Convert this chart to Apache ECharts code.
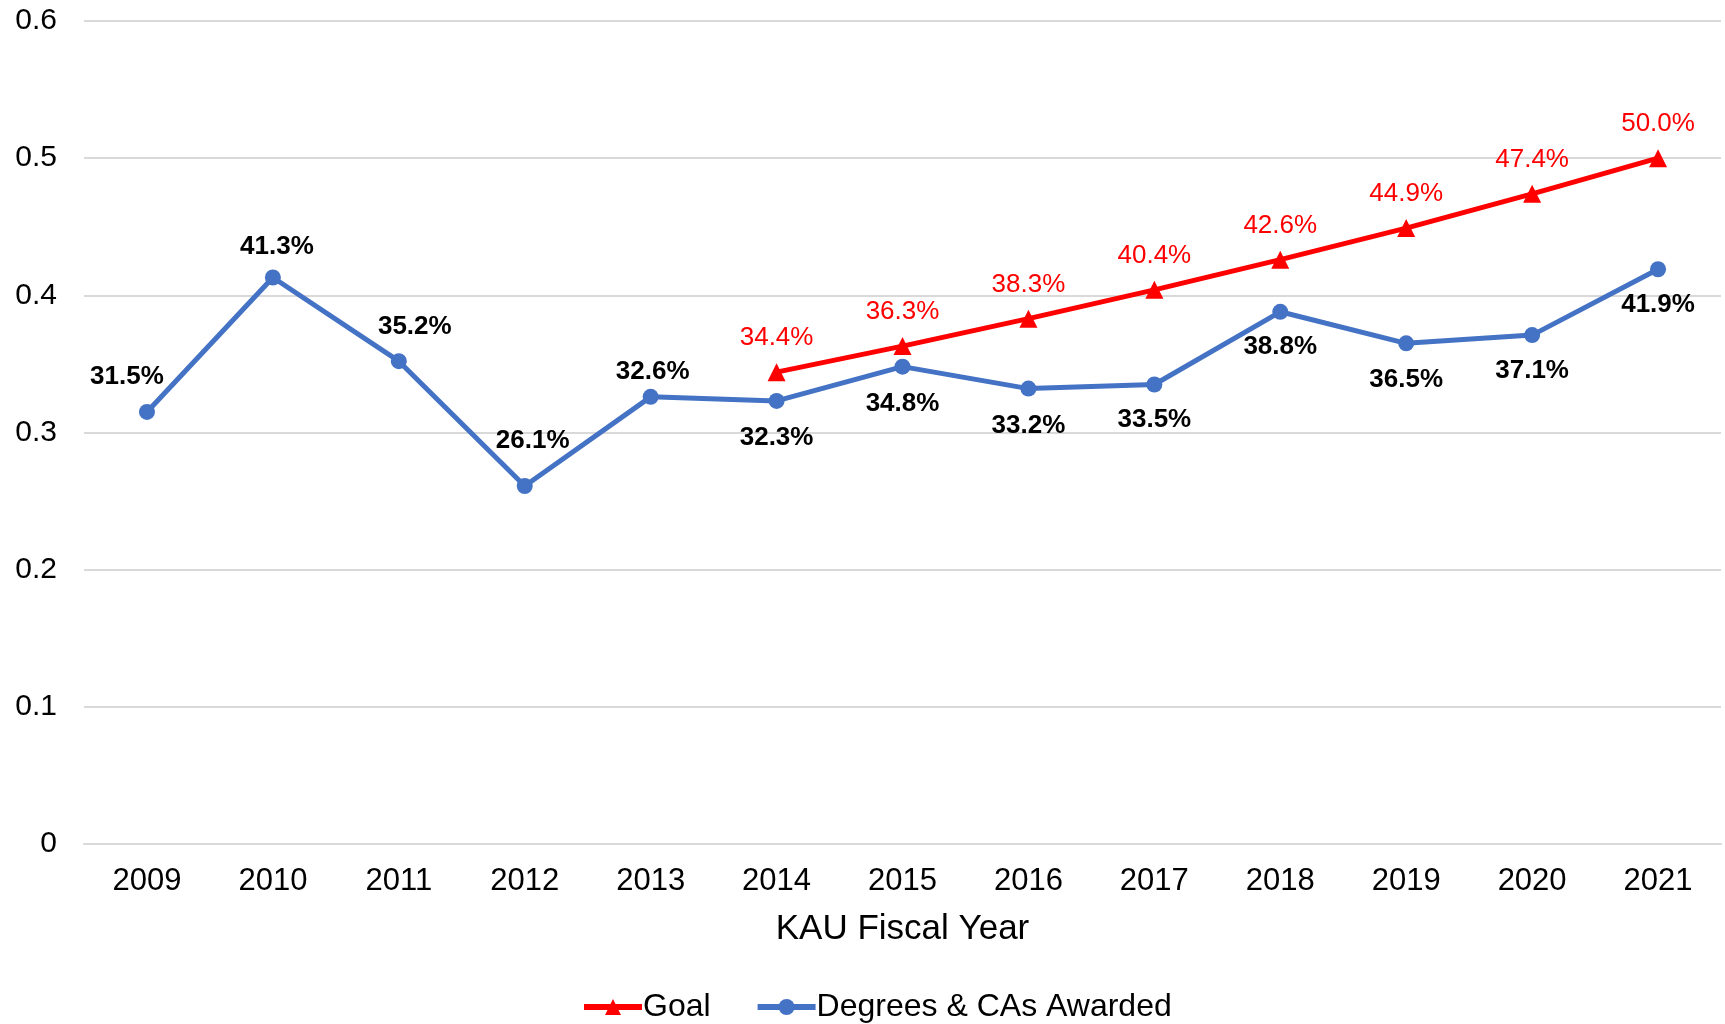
<!DOCTYPE html>
<html>
<head>
<meta charset="utf-8">
<title>KAU Fiscal Year</title>
<script src="https://cdn.jsdelivr.net/npm/echarts@6/dist/echarts.min.js"></script>
<style>
  html, body { margin: 0; padding: 0; background: #fff; }
  #chart { width: 1725px; height: 1024px; }
</style>
</head>
<body>
<div id="chart"></div>
<script>
// data
var years = ['2009', '2010', '2011', '2012', '2013', '2014', '2015', '2016', '2017', '2018', '2019', '2020', '2021'];
var goal = [null, null, null, null, null, 0.344, 0.363, 0.383, 0.404, 0.426, 0.449, 0.474, 0.500];
var awarded = [0.315, 0.413, 0.352, 0.261, 0.326, 0.323, 0.348, 0.332, 0.335, 0.388, 0.365, 0.371, 0.419];

// label placement (px from the point), kept apart from the values
var awardedLabelOffset = [[-20, -35], [4, -31], [16, -34], [8, -45], [2, -25], [0, 37], [0, 37], [0, 37], [0, 35], [0, 35], [0, 36], [0, 36], [0, 36]];
var goalLabelOffset = [0, -34];

var chart = echarts.init(document.getElementById('chart'));

var fmt = function (p) { return (p.value * 100).toFixed(1) + '%'; };

var option = {
  animation: false,
  textStyle: { fontFamily: 'Liberation Sans, Arial, sans-serif' },
  grid: { left: 84, right: 4, top: 21, bottom: 180 },
  legend: {
    bottom: -4,
    left: 576,
    itemWidth: 58,
    itemHeight: 20,
    itemGap: 44,
    lineStyle: { width: 6 },
    textStyle: { fontSize: 32, color: '#000', padding: [0, 0, 0, -4] },
    data: ['Goal', 'Degrees & CAs Awarded']
  },
  xAxis: {
    type: 'category',
    data: years,
    name: 'KAU Fiscal Year',
    nameLocation: 'middle',
    nameGap: 68,
    nameTextStyle: { fontSize: 35, color: '#000' },
    axisLine: { lineStyle: { color: '#d9d9d9', width: 2 } },
    axisTick: { show: false },
    axisLabel: { fontSize: 31, color: '#000', margin: 22 }
  },
  yAxis: {
    type: 'value',
    min: 0,
    max: 0.6,
    interval: 0.1,
    axisLine: { show: false },
    axisTick: { show: false },
    axisLabel: { fontSize: 30, color: '#000', margin: 27 },
    splitLine: { lineStyle: { color: '#d9d9d9', width: 2 } }
  },
  series: [
    {
      name: 'Goal',
      type: 'line',
      data: goal,
      color: '#ff0000',
      symbol: 'triangle',
      symbolSize: 18,
      lineStyle: { width: 5, color: '#ff0000' },
      itemStyle: { color: '#ff0000' },
      label: {
        show: true,
        position: 'inside',
        offset: goalLabelOffset,
        fontSize: 26,
        color: '#ff0000',
        formatter: fmt
      },
      z: 3
    },
    {
      name: 'Degrees & CAs Awarded',
      type: 'line',
      color: '#4472c4',
      data: awarded.map(function (v, i) {
        return { value: v, label: { offset: awardedLabelOffset[i] } };
      }),
      symbol: 'circle',
      symbolSize: 16,
      lineStyle: { width: 5, color: '#4472c4' },
      itemStyle: { color: '#4472c4' },
      label: {
        show: true,
        position: 'inside',
        fontSize: 26,
        fontWeight: 'bold',
        color: '#000',
        formatter: fmt
      },
      z: 2
    }
  ]
};

chart.setOption(option);
</script>
</body>
</html>
